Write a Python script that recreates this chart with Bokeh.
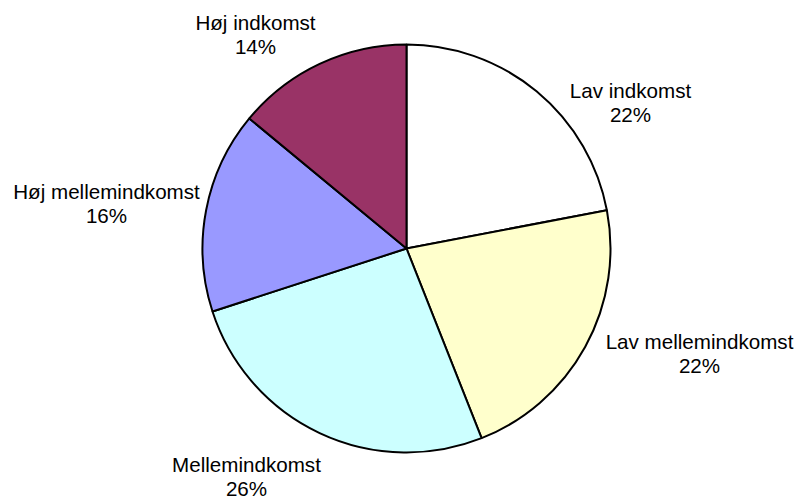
import math
from bokeh.plotting import figure
from bokeh.models import Range1d, ColumnDataSource
from bokeh.core.properties import value
from bokeh.embed import file_html
from bokeh.resources import INLINE

# Data
categories = ["Lav indkomst", "Lav mellemindkomst", "Mellemindkomst",
              "Høj mellemindkomst", "Høj indkomst"]
shares = [22, 22, 26, 16, 14]
colors = ["#FFFFFF", "#FFFFCC", "#CCFFFF", "#9999FF", "#993366"]

W, H = 801, 501
p = figure(width=W, height=H, output_backend="svg", toolbar_location=None,
           x_range=Range1d(0, W), y_range=Range1d(0, H),
           min_border=0, outline_line_color=None)
p.axis.visible = False
p.grid.visible = False
p.background_fill_color = "white"
p.border_fill_color = "white"

def py(y_page):
    return H - y_page

cx, cy, r = 406, py(248), 204
total = sum(shares)
starts, ends = [], []
cum = 0.0
for s in shares:
    a0 = math.pi / 2 - 2 * math.pi * cum / total
    cum += s
    a1 = math.pi / 2 - 2 * math.pi * cum / total
    starts.append(a1)
    ends.append(a0)

src = ColumnDataSource(dict(start=starts, end=ends, color=colors))
p.wedge(x=cx, y=cy, radius=r, start_angle="start", end_angle="end",
        direction="anticlock", fill_color="color", line_color="black",
        line_width=2, source=src)

# label anchor positions (page coords: center x, baseline of first line)
label_pos = [(630, 90), (699, 341), (246, 464), (106, 191), (255, 22)]
xs, ys, texts = [], [], []
for (lx, ly), name, s in zip(label_pos, categories, shares):
    xs += [lx, lx]
    ys += [py(ly), py(ly + 24)]
    texts += [name, f"{s}%"]

p.text(x=xs, y=ys, text=texts, text_align="center", text_baseline="alphabetic",
       text_font=value("Liberation Sans"), text_font_size="20.6px",
       text_color="black")

open("out.html", "w").write(file_html(p, INLINE))
